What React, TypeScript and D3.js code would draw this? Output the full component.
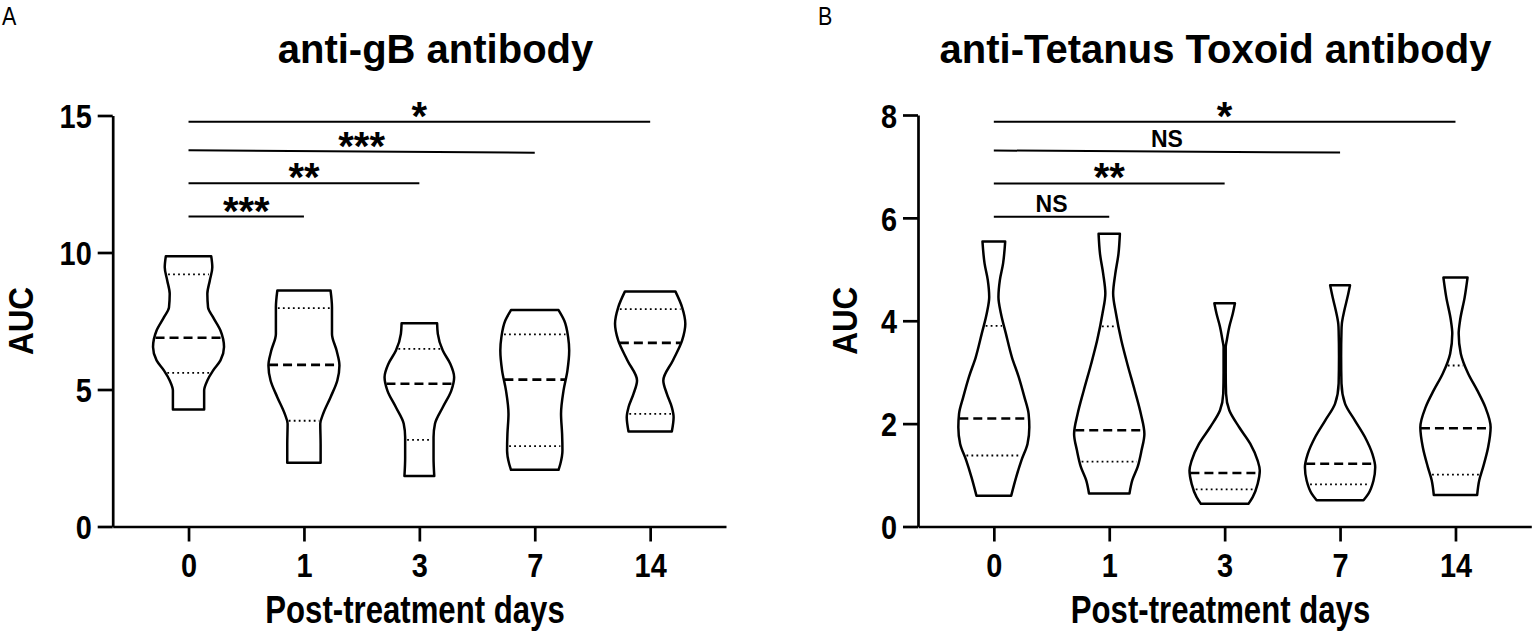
import { useEffect, useRef } from 'react';
import * as d3 from 'd3';

const days = ['0', '1', '3', '7', '14'];

// anti-gB antibody: quartiles per day
const gbMedian = [6.89, 5.9, 5.21, 5.36, 6.7];
const gbQ1 = [5.61, 3.86, 3.16, 2.93, 4.11];
const gbQ3 = [9.2, 7.97, 6.48, 7.01, 7.93];
// violin outline: [AUC, relative density], from max down to min
const gbDensity: [number, number][][] = [
  [[9.86, 0.64], [9.46, 0.67], [8.98, 0.6], [8.49, 0.53], [8.0, 0.55], [7.64, 0.69], [7.15, 0.9], [6.55, 1.0], [6.06, 0.9], [5.69, 0.69], [5.33, 0.53], [4.96, 0.44], [4.27, 0.44]],
  [[8.61, 0.75], [8.0, 0.79], [7.03, 0.79], [6.42, 0.92], [5.88, 1.0], [5.33, 0.94], [4.72, 0.75], [4.11, 0.54], [3.75, 0.46], [3.0, 0.47], [2.33, 0.47]],
  [[7.42, 0.5], [7.03, 0.52], [6.42, 0.66], [5.94, 0.87], [5.45, 0.98], [4.96, 0.9], [4.35, 0.66], [3.75, 0.44], [3.26, 0.4], [2.5, 0.4], [1.84, 0.42]],
  [[7.9, 0.67], [7.52, 0.83], [6.91, 0.94], [6.42, 0.97], [5.69, 0.92], [4.96, 0.81], [4.11, 0.74], [3.38, 0.77], [2.77, 0.78], [2.28, 0.72], [2.07, 0.67]],
  [[8.58, 0.71], [8.0, 0.9], [7.4, 0.99], [6.79, 0.9], [6.06, 0.64], [5.33, 0.37], [4.84, 0.47], [4.35, 0.61], [3.99, 0.66], [3.47, 0.61]],
];
const gbSigTo = ['1', '3', '7', '14'];
const gbSigStart = [11.31, 12.53, 13.73, 14.77];
const gbSigEnd = [11.31, 12.53, 13.64, 14.77];
const gbSigText = ['***', '**', '***', '*'];

// anti-Tetanus Toxoid antibody
const ttMedian = [2.1, 1.87, 1.04, 1.22, 1.91];
const ttQ1 = [1.38, 1.26, 0.72, 0.82, 1.01];
const ttQ3 = [3.9, 3.89, 3.0, 3.2, 3.13];
const ttDensity: [number, number][][] = [
  [[5.54, 0.32], [5.11, 0.26], [4.79, 0.17], [4.46, 0.13], [4.14, 0.2], [3.75, 0.34], [3.29, 0.51], [2.91, 0.7], [2.52, 0.86], [2.19, 0.98], [1.93, 1.0], [1.61, 0.95], [1.29, 0.78], [0.96, 0.63], [0.6, 0.49]],
  [[5.69, 0.3], [5.3, 0.26], [4.91, 0.17], [4.53, 0.11], [4.14, 0.19], [3.62, 0.34], [3.16, 0.51], [2.64, 0.72], [2.19, 0.89], [1.8, 0.99], [1.48, 0.91], [1.16, 0.8], [0.9, 0.65], [0.64, 0.57]],
  [[4.34, 0.29], [4.14, 0.23], [3.88, 0.13], [3.62, 0.06], [3.49, 0.03], [3.0, 0.03], [2.58, 0.04], [2.26, 0.13], [1.93, 0.41], [1.61, 0.72], [1.28, 0.93], [1.09, 0.99], [0.83, 0.93], [0.57, 0.79], [0.44, 0.67]],
  [[4.69, 0.28], [4.46, 0.21], [4.2, 0.12], [3.94, 0.05], [3.81, 0.04], [3.3, 0.03], [2.78, 0.04], [2.39, 0.14], [2.06, 0.42], [1.74, 0.7], [1.41, 0.91], [1.15, 0.99], [0.89, 0.94], [0.64, 0.8], [0.51, 0.66]],
  [[4.84, 0.34], [4.46, 0.26], [4.01, 0.13], [3.75, 0.09], [3.36, 0.15], [2.97, 0.36], [2.65, 0.61], [2.32, 0.84], [1.93, 0.99], [1.54, 0.92], [1.16, 0.78], [0.9, 0.67], [0.61, 0.61]],
];
const ttSigTo = ['1', '3', '7', '14'];
const ttSigStart = [6.02, 6.67, 7.31, 7.87];
const ttSigEnd = [6.02, 6.67, 7.27, 7.87];
const ttSigText = ['NS', '**', 'NS', '*'];

const FONT = "'Liberation Sans', Arial, Helvetica, sans-serif";

interface Panel {
  letter: string;
  title: string;
  left: number;
  right: number;
  top: number;
  yMax: number;
  yTicks: number[];
  titleX: number;
  xTitleX: number;
  aucX: number;
  letterX: number;
  median: number[];
  q1: number[];
  q3: number[];
  density: [number, number][][];
  sigTo: string[];
  sigStart: number[];
  sigEnd: number[];
  sigText: string[];
}

const panels: Panel[] = [
  {
    letter: 'A', title: 'anti-gB antibody', left: 112.7, right: 726, top: 115.5, yMax: 15,
    yTicks: [0, 5, 10, 15], titleX: 435.5, xTitleX: 415, aucX: 33.3, letterX: 2,
    median: gbMedian, q1: gbQ1, q3: gbQ3, density: gbDensity,
    sigTo: gbSigTo, sigStart: gbSigStart, sigEnd: gbSigEnd, sigText: gbSigText,
  },
  {
    letter: 'B', title: 'anti-Tetanus Toxoid antibody', left: 918, right: 1531.3, top: 115, yMax: 8,
    yTicks: [0, 2, 4, 6, 8], titleX: 1215.5, xTitleX: 1220.5, aucX: 857, letterX: 818,
    median: ttMedian, q1: ttQ1, q3: ttQ3, density: ttDensity,
    sigTo: ttSigTo, sigStart: ttSigStart, sigEnd: ttSigEnd, sigText: ttSigText,
  },
];

const BOTTOM = 526.5;
const HALF_WIDTH = 35.5;

export default function App() {
  const svgRef = useRef<SVGSVGElement>(null);

  useEffect(() => {
    if (!svgRef.current) return;
    const svg = d3.select(svgRef.current);
    svg.selectAll('*').remove();

    const text = (
      g: d3.Selection<SVGGElement, unknown, null, undefined>,
      s: string, x: number, y: number, size: number, weight: string,
      sx: number, anchor: string, rotate = 0,
    ) => g.append('text')
      .attr('transform', `translate(${x},${y}) rotate(${rotate}) scale(${sx},1)`)
      .attr('text-anchor', anchor)
      .attr('font-family', FONT)
      .attr('font-size', size)
      .attr('font-weight', weight)
      .attr('fill', '#000')
      .text(s);

    panels.forEach(p => {
      const g = svg.append('g');

      const x = d3.scalePoint<string>().domain(days).range([p.left, p.right]).padding(0.657);
      const y = d3.scaleLinear().domain([0, p.yMax]).range([BOTTOM, p.top]);
      const w = d3.scaleLinear().domain([0, 1]).range([0, HALF_WIDTH]);

      // panel letter and title
      text(g, p.letter, p.letterX, 25, 25, 'normal', 0.86, 'start');
      text(g, p.title, p.titleX, 63, 40, 'bold', 1, 'middle');

      // y axis
      const yAxis = g.append('g')
        .attr('transform', `translate(${p.left},0)`)
        .call(d3.axisLeft(y).tickValues(p.yTicks).tickSize(15).tickSizeOuter(0).tickFormat(d3.format('d')));
      // x axis
      const xAxis = g.append('g')
        .attr('transform', `translate(0,${BOTTOM})`)
        .call(d3.axisBottom(x).tickSize(15).tickSizeOuter(0));

      [yAxis, xAxis].forEach(a => {
        a.selectAll('path, line').attr('stroke', '#000').attr('stroke-width', 2.7);
        a.selectAll('text').attr('font-family', FONT).attr('font-size', 34).attr('font-weight', 'bold').attr('fill', '#000');
      });
      yAxis.selectAll('text')
        .attr('x', 0).attr('dy', '0.36em')
        .attr('transform', 'translate(-21,0) scale(0.85,1)');
      xAxis.selectAll('text')
        .attr('y', 0).attr('dy', 0)
        .attr('transform', 'translate(0,50) scale(0.85,1)');

      // axis titles
      text(g, 'Post-treatment days', p.xTitleX, 622.5, 38, 'bold', 0.82, 'middle');
      text(g, 'AUC', p.aucX, (BOTTOM + p.top) / 2, 35, 'bold', 0.9, 'middle', -90);

      // violins
      p.density.forEach((prof, i) => {
        const cx = x(days[i])!;
        const area = d3.area<[number, number]>()
          .y(d => y(d[0]))
          .x0(d => cx - w(d[1]))
          .x1(d => cx + w(d[1]))
          .curve(d3.curveMonotoneY);
        g.append('path')
          .attr('d', area(prof))
          .attr('fill', '#fff')
          .attr('stroke', '#000')
          .attr('stroke-width', 2.5)
          .attr('stroke-linejoin', 'round');

        const dens = d3.scaleLinear().domain(prof.map(d => d[0])).range(prof.map(d => d[1]));
        const hLine = (v: number, dash: string, sw: number, inset: number) => {
          const hw = Math.max(0, w(dens(v)) - inset);
          g.append('line')
            .attr('x1', cx - hw).attr('x2', cx + hw)
            .attr('y1', y(v)).attr('y2', y(v))
            .attr('stroke', '#000')
            .attr('stroke-width', sw)
            .attr('stroke-dasharray', dash);
        };
        hLine(p.median[i], '9,5', 2.6, 0.5);
        hLine(p.q1[i], '1.8,3.2', 1.8, 2);
        hLine(p.q3[i], '1.8,3.2', 1.8, 2);
      });

      // significance bars
      p.sigTo.forEach((to, i) => {
        const x1 = x(days[0])!;
        const x2 = x(to)!;
        const y1 = y(p.sigStart[i]);
        const y2 = y(p.sigEnd[i]);
        g.append('line')
          .attr('x1', x1).attr('x2', x2)
          .attr('y1', y1).attr('y2', y2)
          .attr('stroke', '#000')
          .attr('stroke-width', 2);
        const star = p.sigText[i] !== 'NS';
        const ym = (y1 + y2) / 2;
        text(g, p.sigText[i], (x1 + x2) / 2, star ? ym + 8 : ym - 5, star ? 40 : 23, 'bold', 1, 'middle');
      });
    });
  }, []);

  return (
    <svg
      ref={svgRef}
      width={1536}
      height={635}
      style={{ position: 'absolute', left: 0, top: 0, background: '#fff' }}
    />
  );
}
